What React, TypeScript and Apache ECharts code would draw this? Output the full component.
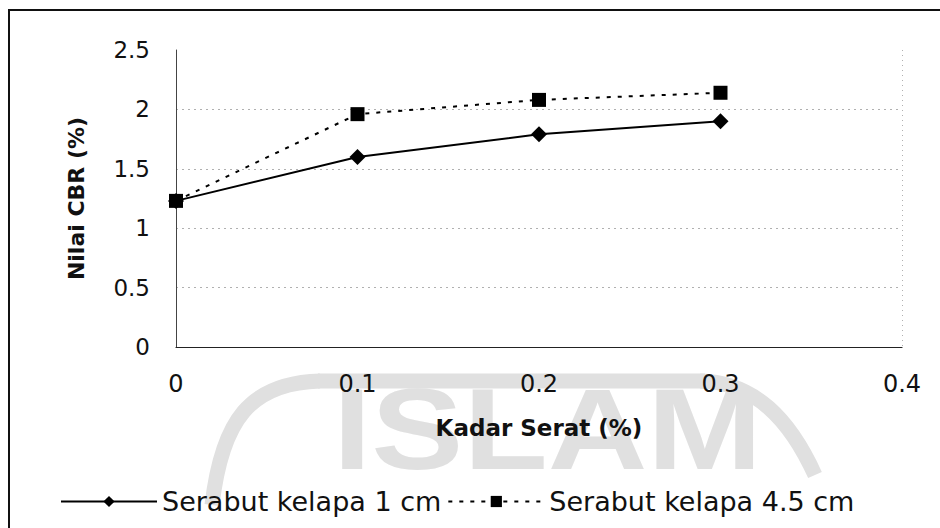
import React, { useEffect, useRef } from "react";
import * as echarts from "echarts";

const xValues = [0, 0.1, 0.2, 0.3];
const series1Name = "Serabut kelapa 1 cm";
const series2Name = "Serabut kelapa 4.5 cm";
const series1Values = [1.23, 1.6, 1.79, 1.9];
const series2Values = [1.23, 1.96, 2.08, 2.14];
const xTitle = "Kadar Serat (%)";
const yTitle = "Nilai CBR (%)";
const watermarkText = "ISLAM";

export default function App() {
  const ref = useRef<HTMLDivElement>(null);
  useEffect(() => {
    document.body.style.margin = "0";
    const chart = echarts.init(ref.current!, null, { renderer: "svg" });
    const font = "DejaVu Sans, Verdana, sans-serif";
    const wm = "#e0e0e0";
    const s1 = xValues.map((x, i) => [x, series1Values[i]]);
    const s2 = xValues.map((x, i) => [x, series2Values[i]]);
    chart.setOption({
      animation: false,
      backgroundColor: "#ffffff",
      textStyle: { fontFamily: font },
      grid: { left: 176, right: 38, top: 50, bottom: 181, containLabel: false },
      graphic: [
        {
          type: "text",
          z: -10,
          left: 333,
          top: 372,
          style: {
            text: watermarkText,
            font: "bold 115px Liberation Sans, Arial, sans-serif",
            fill: wm,
          },
          scaleX: 1.2,
        },
        {
          type: "bezierCurve",
          z: -10,
          shape: { x1: 212, y1: 505, cpx1: 222, cpy1: 420, cpx2: 250, cpy2: 383, x2: 320, y2: 381 },
          style: { stroke: wm, lineWidth: 15, fill: "none" },
        },
        {
          type: "line",
          z: -10,
          shape: { x1: 318, y1: 381, x2: 705, y2: 381 },
          style: { stroke: wm, lineWidth: 15 },
        },
        {
          type: "bezierCurve",
          z: -10,
          shape: { x1: 700, y1: 381, cpx1: 755, cpy1: 382, cpx2: 790, cpy2: 420, x2: 815, y2: 475 },
          style: { stroke: wm, lineWidth: 15, fill: "none" },
        },
        {
          type: "rect",
          z: 100,
          shape: { x: 9, y: 10, width: 945, height: 540 },
          style: { stroke: "#111", lineWidth: 2, fill: "none" },
        },
      ],
      xAxis: {
        type: "value",
        min: 0,
        max: 0.4,
        interval: 0.1,
        name: xTitle,
        nameLocation: "middle",
        nameGap: 69,
        nameTextStyle: { fontSize: 23, fontWeight: "bold", color: "#111", fontFamily: font },
        axisLine: { show: true, onZero: false, lineStyle: { color: "#222", width: 1.2 } },
        axisTick: { show: false },
        axisLabel: { fontSize: 24, color: "#111", margin: 25, fontFamily: font },
        splitLine: {
          show: true,
          lineStyle: {
            color: ["transparent", "transparent", "transparent", "transparent", "#b0b0b0"],
            type: [1, 4],
            width: 1,
          },
        },
      },
      yAxis: {
        type: "value",
        min: 0,
        max: 2.5,
        interval: 0.5,
        name: yTitle,
        nameLocation: "middle",
        nameRotate: 90,
        nameGap: 89,
        nameTextStyle: { fontSize: 22, fontWeight: "bold", color: "#111", fontFamily: font },
        axisLine: { show: true, lineStyle: { color: "#444", width: 1 } },
        axisTick: { show: false },
        axisLabel: { fontSize: 23, color: "#111", margin: 26, fontFamily: font },
        splitLine: {
          show: true,
          lineStyle: {
            color: ["transparent", "#b0b0b0", "#b0b0b0", "#b0b0b0", "#b0b0b0", "transparent"],
            type: [2, 4],
            width: 1,
          },
        },
      },
      legend: {
        bottom: 8,
        left: 55,
        itemWidth: 96,
        itemHeight: 14,
        itemGap: 6,
        textStyle: { fontSize: 27, color: "#111", fontFamily: font },
        data: [series1Name, series2Name],
      },
      series: [
        {
          name: series1Name,
          type: "line",
          data: s1,
          symbol: "diamond",
          symbolSize: 16,
          itemStyle: { color: "#000" },
          lineStyle: { color: "#000", width: 2 },
        },
        {
          name: series2Name,
          type: "line",
          data: s2,
          symbol: "rect",
          symbolSize: 14,
          itemStyle: { color: "#000" },
          lineStyle: { color: "#000", width: 2, type: [4, 7] },
        },
      ],
    });
    return () => chart.dispose();
  }, []);
  return (
    <div
      ref={ref}
      style={{ position: "fixed", left: 0, top: 0, width: 940, height: 528 }}
    />
  );
}
